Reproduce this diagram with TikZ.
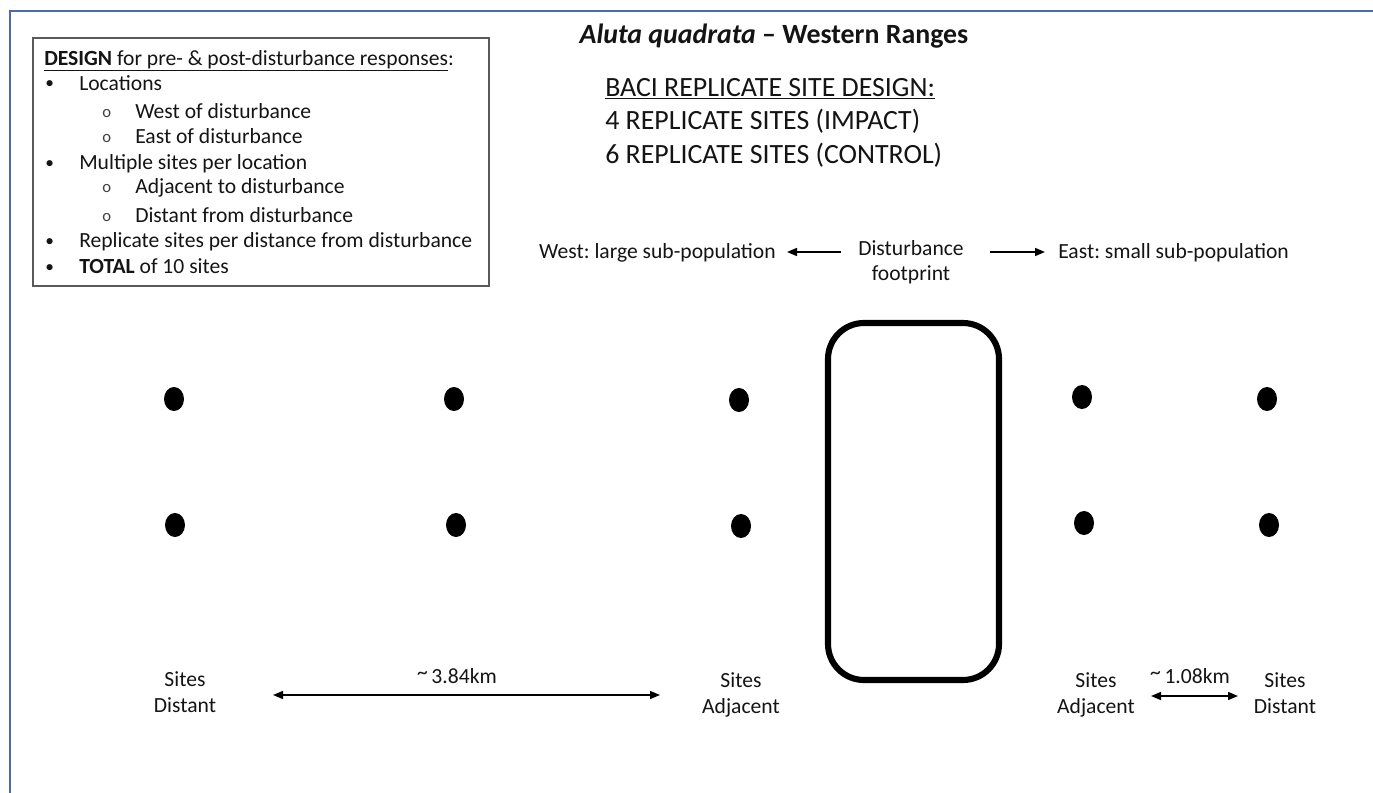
\documentclass[tikz,border=0pt]{standalone}
\usepackage{fontspec}
\setmainfont{Carlito}
\frenchspacing
\usetikzlibrary{arrows.meta,shapes.geometric}
\definecolor{slideblue}{RGB}{74,108,170}
\definecolor{boxgray}{RGB}{90,90,90}
\definecolor{ink}{RGB}{20,20,20}
\newcommand{\approxtilde}{\raisebox{2.5pt}{\symbol{"7E}}}
\tikzset{
  body/.style={font=\fontsize{16.2}{19.5}\selectfont, text=ink, inner sep=0pt},
  big/.style={font=\fontsize{20.9}{25}\selectfont, text=ink, inner sep=0pt, anchor=base west},
  lbl/.style={body, anchor=base, align=center},
  bul/.style={body, anchor=base west, font=\fontsize{13}{15}\selectfont},
  sub/.style={body, anchor=base west, font=\fontsize{12.5}{15}\selectfont, text=black!75},
  site/.style={ellipse, fill=black, minimum width=15pt, minimum height=18pt, inner sep=0pt},
  conn/.style={line width=1.1pt, -{Triangle[length=7.5pt,width=6pt]}},
  dconn/.style={line width=1.1pt, {Triangle[length=7.5pt,width=6pt]}-{Triangle[length=7.5pt,width=6pt]}},
}
\begin{document}
\begin{tikzpicture}[x=0.75pt,y=-0.75pt]
\useasboundingbox (0,0) rectangle (1373,792);
% slide frame
\draw[slideblue, line width=1.6pt] (10,800) -- (10,11) -- (1380,11);

% design box
\draw[boxgray, line width=1pt] (33,38) rectangle (489,286);
\node[body, anchor=base west] (d0) at (44,65) {\underline{\textbf{DESIGN} for pre- \& post-disturbance responses}:};
\node[bul] (b1) at (45,89) {•};
\node[body, anchor=base west] (t1) at (79,90) {Locations};
\node[sub] (s1) at (102,117) {o};
\node[body, anchor=base west] (t2) at (135,118) {West of disturbance};
\node[sub] (s2) at (102,142) {o};
\node[body, anchor=base west] (t3) at (135,143) {East of disturbance};
\node[bul] (b2) at (45,168) {•};
\node[body, anchor=base west] (t4) at (79,169) {Multiple sites per location};
\node[sub] (s3) at (102,192) {o};
\node[body, anchor=base west] (t5) at (135,193) {Adjacent to disturbance};
\node[sub] (s4) at (102,221) {o};
\node[body, anchor=base west] (t6) at (135,222) {Distant from disturbance};
\node[bul] (b3) at (45,246) {•};
\node[body, anchor=base west] (t7) at (79,247) {Replicate sites per distance from disturbance};
\node[bul] (b4) at (45,272) {•};
\node[body, anchor=base west] (t8) at (79,273) {\textbf{TOTAL} of 10 sites};

% title
\node[body, anchor=base, font=\fontsize{20.9}{25}\selectfont\bfseries] (title) at (774,44) {\textit{Aluta quadrata} – Western Ranges};
\node[big] (baci) at (605,96) {\underline{BACI REPLICATE SITE DESIGN:}};
\node[big] (imp) at (605,129) {4 REPLICATE SITES (IMPACT)};
\node[big] (ctl) at (605,163) {6 REPLICATE SITES (CONTROL)};

% disturbance labels
\node[body, anchor=base] (dist1) at (911,255) {Disturbance};
\node[body, anchor=base] (dist2) at (911,280) {footprint};
\node[body, anchor=base east] (west) at (776,258) {West: large sub-population};
\node[body, anchor=base west] (east) at (1058,258) {East: small sub-population};
\coordinate (wa1) at (841,252);
\coordinate (wa2) at (787,252);
\coordinate (ea1) at (990,252);
\coordinate (ea2) at (1045,252);
\draw[conn] (wa1) -- (wa2);
\draw[conn] (ea1) -- (ea2);

% disturbance footprint
\draw[line width=4.6pt, rounded corners=27pt] (828,323) rectangle (999,680);

% sites
\node[site] (w1a) at (174,399) {};
\node[site] (w1b) at (175,525) {};
\node[site] (w2a) at (454,399) {};
\node[site] (w2b) at (456,525) {};
\node[site] (w3a) at (739,400) {};
\node[site] (w3b) at (741,526) {};
\node[site] (e1a) at (1082,397) {};
\node[site] (e1b) at (1084,523) {};
\node[site] (e2a) at (1267,399) {};
\node[site] (e2b) at (1269,525) {};

% site labels (base = last line)
\node[lbl] (ld) at (185,712) {Sites\\Distant};
\node[lbl] (la) at (741,713) {Sites\\Adjacent};
\node[lbl] (ra) at (1096,713) {Sites\\Adjacent};
\node[lbl] (rd) at (1285,713) {Sites\\Distant};

% distances
\coordinate (d1l) at (273,695);
\coordinate (d1r) at (660,695);
\draw[dconn] (d1l) -- (d1r);
\node[body, anchor=base] (k1) at (457,683) {\approxtilde\,3.84km};
\coordinate (d2l) at (1151,696);
\coordinate (d2r) at (1238,696);
\draw[dconn] (d2l) -- (d2r);
\node[body, anchor=base] (k2) at (1190,683) {\approxtilde\,1.08km};
\end{tikzpicture}
\end{document}
